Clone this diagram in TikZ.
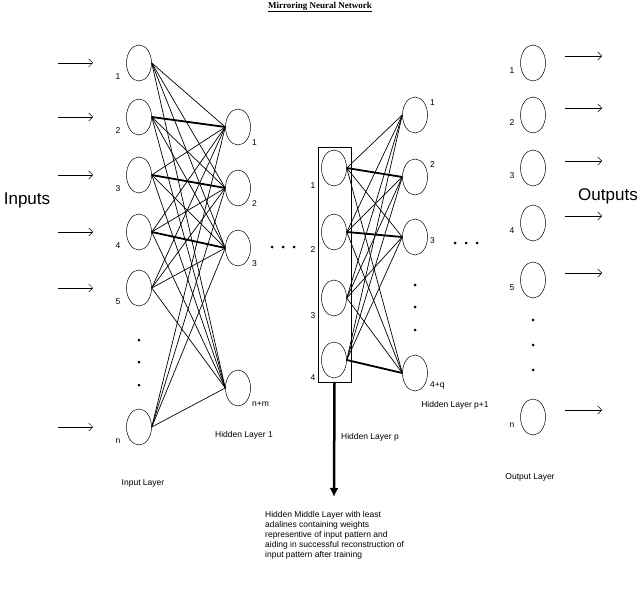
\documentclass[tikz,border=0pt]{standalone}
\usepackage{fontspec}
\setmainfont{Liberation Sans}
\newfontfamily\serifb{Liberation Serif}
\usetikzlibrary{shapes.geometric,arrows.meta}
\begin{document}
\begin{tikzpicture}[x=1pt,y=-1pt,
  neuron/.style={draw,ellipse,minimum width=25pt,minimum height=36pt,inner sep=0pt,line width=0.5pt},
  lbl/.style={font=\fontsize{8.5}{9}\selectfont,inner sep=0pt},
  conn/.style={line width=0.7pt},
  thick conn/.style={line width=1.8pt},
  inarrow/.style={-{Straight Barb[length=4pt,width=8pt]},line width=0.5pt},
  dot/.style={circle,fill,inner sep=0pt,minimum size=3pt}]
\useasboundingbox (0,0) rectangle (640,599);
\node[font=\serifb\bfseries\fontsize{9}{10}\selectfont] (title) at (320,7) {\underline{Mirroring Neural Network}};
% input layer
\foreach \i/\y/\t in {1/63/1,2/117/2,3/175/3,4/232/4,5/288/5,6/427/n}{
  \node[neuron] (i\i) at (139,\y) {};
  \node[lbl] (il\i) at (118,\y+14) {\t};
  \coordinate (ia\i) at (58,\y);
  \coordinate (ib\i) at (93,\y);
  \draw[inarrow] (ia\i) -- (ib\i);
}
\foreach \y [count=\k] in {340,362,385}{\node[dot] (idot\k) at (139,\y) {};}
\node[font=\fontsize{17}{18}\selectfont] (inputs) at (27,200) {Inputs};
\node[lbl] (inl) at (143,483) {Input Layer};
% hidden 1
\foreach \i/\y/\t in {1/127/1,2/188/2,3/248/3,4/388/n+m}{
  \node[neuron] (h\i) at (238,\y) {};
  \node[lbl,anchor=west] (hl\i) at (252,\y+16) {\t};
}
\node[lbl] (h1l) at (244,435) {Hidden Layer 1};
\foreach \a in {1,...,6}{\foreach \b in {1,...,4}{\draw[conn] (i\a.east) -- (h\b.west);}}
\draw[thick conn] (i2.east) -- (h1.west);
\draw[thick conn] (i3.east) -- (h2.west);
\draw[thick conn] (i4.east) -- (h3.west);
\foreach \x [count=\k] in {272,283,294}{\node[dot] (hd\k) at (\x,247) {};}
% hidden p
\node[draw,line width=1pt,minimum width=33pt,minimum height=234pt,inner sep=0pt] (box) at (334.5,265) {};
\foreach \i/\y in {1/168,2/232,3/298,4/360}{
  \node[neuron] (p\i) at (334,\y) {};
  \node[lbl] (pl\i) at (313,\y+18) {\i};
}
\coordinate (arrEnd) at (334,497);
\draw[line width=2.5pt,-{Latex[length=9pt,width=9pt]}] (box.south) -- (arrEnd);
\node[lbl] (pl) at (370,437) {Hidden Layer p};
% hidden p+1
\foreach \i/\y/\t/\d in {1/115/1/-12,2/177/2/-12,3/237/3/4,4/373/4+q/12}{
  \node[neuron] (q\i) at (415,\y) {};
  \node[lbl,anchor=west] (ql\i) at (430,\y+\d) {\t};
}
\node[lbl] (qlayer) at (455,405) {Hidden Layer p+1};
\foreach \a in {1,...,4}{\foreach \b in {1,...,4}{\draw[conn] (p\a.east) -- (q\b.west);}}
\draw[thick conn] (p1.east) -- (q2.west);
\draw[thick conn] (p2.east) -- (q3.west);
\draw[thick conn] (p4.east) -- (q4.west);
\foreach \y [count=\k] in {285,307,330}{\node[dot] (qd\k) at (415,\y) {};}
\foreach \x [count=\k] in {455,466,477}{\node[dot] (qh\k) at (\x,243) {};}
% output
\foreach \i/\y/\t in {1/63/1,2/115/2,3/168/3,4/223/4,5/280/5,6/417/n}{
  \node[neuron] (o\i) at (533,\y) {};
  \node[lbl] (ol\i) at (512,\y+8) {\t};
  \coordinate (oa\i) at (602,\y-7);
  \coordinate (os\i) at (565,\y-7);
  \draw[inarrow] (os\i) -- (oa\i);
}
\foreach \y [count=\k] in {320,345,370}{\node[dot] (od\k) at (533,\y) {};}
\node[font=\fontsize{17}{18}\selectfont] (outputs) at (608,196) {Outputs};
\node[lbl] (ollayer) at (530,477) {Output Layer};
% bottom text
\node[lbl,anchor=north west,align=left,font=\fontsize{8.5}{10}\selectfont] (desc) at (265,511)
{Hidden Middle Layer with least\\adalines containing weights\\representive of input pattern and\\aiding in successful reconstruction of\\input pattern after training};
\end{tikzpicture}
\end{document}
